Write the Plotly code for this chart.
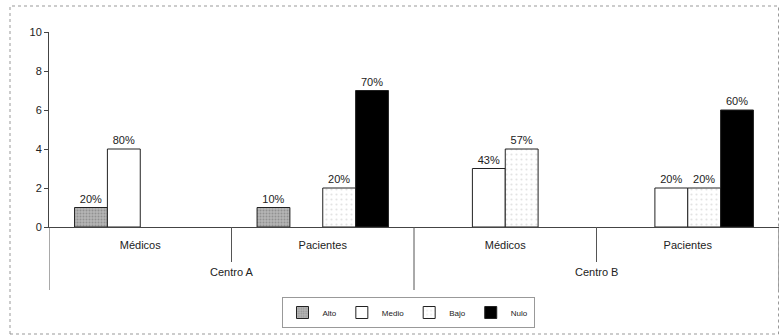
import plotly.graph_objects as go

centros = ["Centro A", "Centro A", "Centro B", "Centro B"]
grupos = ["Médicos", "Pacientes", "Médicos", "Pacientes"]
series = ["Alto", "Medio", "Bajo", "Nulo"]
alto = [1, 1, None, None]
medio = [4, None, 3, 2]
bajo = [None, 2, 4, 2]
nulo = [None, 7, None, 6]
etiq_alto = ["20%", "10%", "", ""]
etiq_medio = ["80%", "", "43%", "20%"]
etiq_bajo = ["", "20%", "57%", "20%"]
etiq_nulo = ["", "70%", "", "60%"]

valores = [alto, medio, bajo, nulo]
etiquetas = [etiq_alto, etiq_medio, etiq_bajo, etiq_nulo]
estilos = [
    dict(color="#b5b5b5", pattern=dict(shape=".", fgcolor="#6e6e6e", bgcolor="#b5b5b5", size=3, solidity=0.35)),
    dict(color="white"),
    dict(color="white", pattern=dict(shape=".", fgcolor="#c8c8c8", bgcolor="white", size=5, solidity=0.15)),
    dict(color="black"),
]

pos = list(range(len(grupos)))

fig = go.Figure()
for nombre, vals, et, est in zip(series, valores, etiquetas, estilos):
    fig.add_trace(go.Bar(
        name=nombre, x=pos, y=vals, text=et,
        textposition="outside", cliponaxis=False,
        textfont=dict(size=11, color="#222"),
        marker=dict(line=dict(color="#222", width=1), **est),
    ))

H_PLOT = 336 - 32 - 109
def py(px_below):
    return -px_below / H_PLOT

# divider lines below the category axis
for i in range(len(grupos) + 1):
    xb = i - 0.5
    if i == 0 or i == len(grupos) or centros[i] != centros[i - 1]:
        depth = 63
    else:
        depth = 35
    fig.add_shape(type="line", xref="x", yref="paper", x0=xb, x1=xb, y0=0, y1=py(depth),
                  line=dict(color="#555", width=1))

# outer category labels
for c in dict.fromkeys(centros):
    idx = [i for i, v in enumerate(centros) if v == c]
    fig.add_annotation(x=sum(idx) / len(idx), y=py(45), xref="x", yref="paper",
                       text=c, showarrow=False, yanchor="middle",
                       font=dict(size=11, color="#222"))

fig.update_layout(
    width=780, height=336, barmode="group", bargap=0.28, bargroupgap=0,
    margin=dict(l=49, r=1, t=32, b=109),
    paper_bgcolor="white", plot_bgcolor="white",
    font=dict(family="Liberation Sans, Arial, sans-serif", size=11, color="#222"),
    showlegend=True,
    legend=dict(orientation="h", x=(408 - 49) / 730, xanchor="center", y=py(70), yanchor="top",
                font=dict(size=8), bordercolor="#999", borderwidth=1,
                itemwidth=30, tracegroupgap=0),
)
fig.update_yaxes(range=[0, 10], dtick=2, showline=True, linecolor="#444", linewidth=1,
                 ticks="outside", ticklen=4, tickcolor="#444", showgrid=False, zeroline=False,
                 tickfont=dict(size=11))
fig.update_xaxes(range=[-0.5, len(grupos) - 0.5], tickmode="array", tickvals=pos, ticktext=grupos,
                 showline=True, linecolor="#444", linewidth=1, ticks="", ticklabelstandoff=8,
                 showgrid=False, zeroline=False, tickfont=dict(size=11))
fig.add_shape(type="rect", xref="paper", yref="paper",
              x0=(10 - 49) / 730, x1=(778.5 - 49) / 730, y0=py(107), y1=1 + 26 / H_PLOT,
              line=dict(color="#999", width=1, dash="dot"), fillcolor="rgba(0,0,0,0)")
fig.write_html("out.html")
